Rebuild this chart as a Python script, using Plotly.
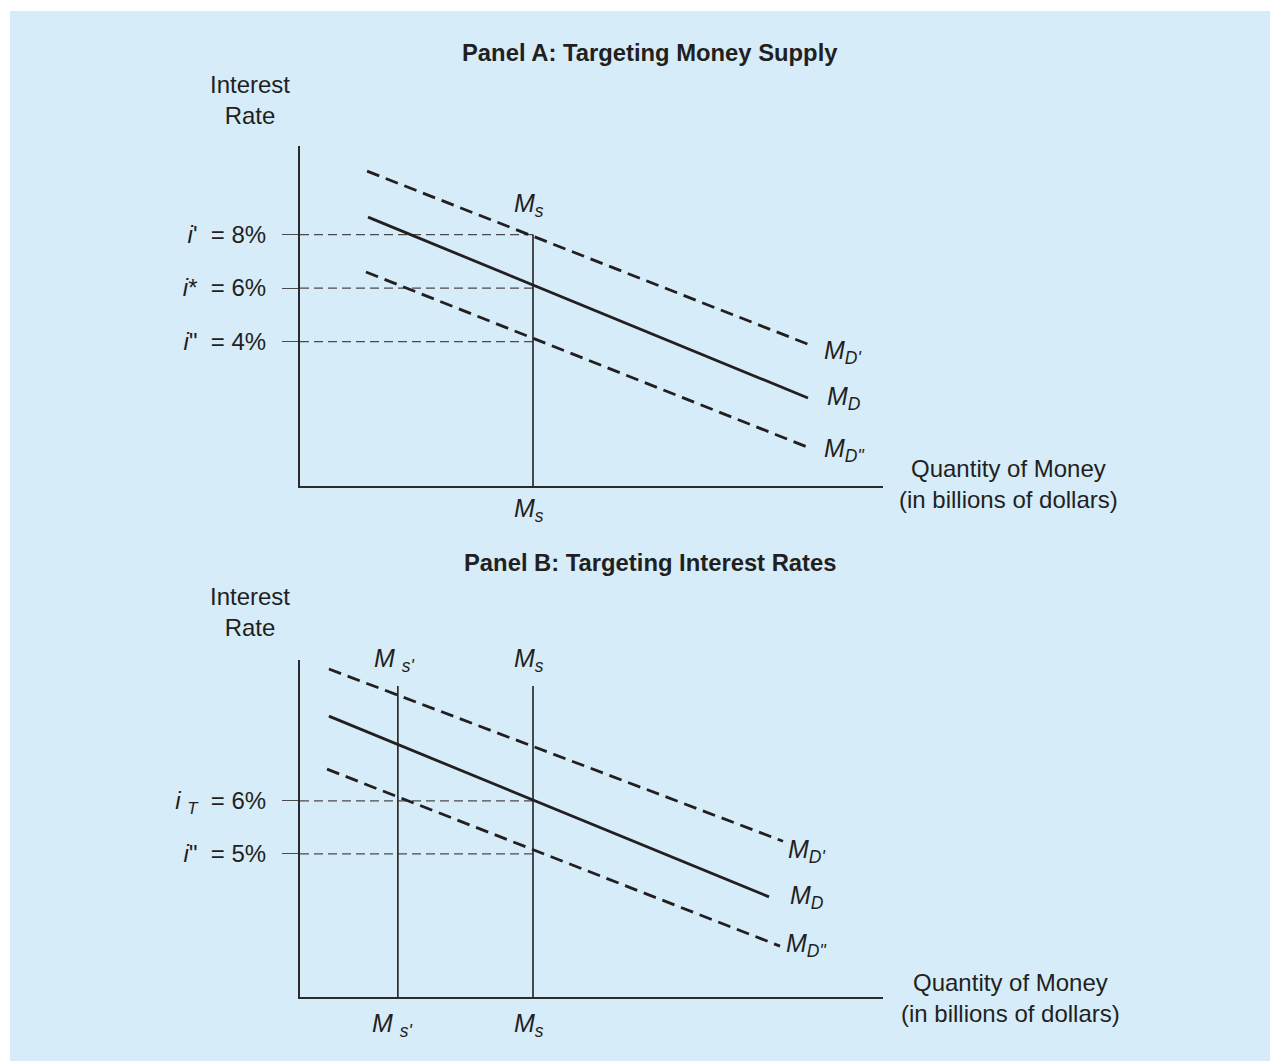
import plotly.graph_objects as go

# quantity of money: origin = 0, Ms = 100 (arbitrary units)
ms = 100
ms_prime = 42
x_range = [0, 250.2]

# ---- Panel A: targeting money supply ----
a_y_range = [-1.40, 11.31]
a_ticks = [8, 6, 4]
a_tick_text = ["<i>i</i>'&nbsp; = 8%", "<i>i</i>*&nbsp; = 6%", '<i>i</i>"&nbsp; = 4%']
a_ms_top = 8

a_md_x = [29.2, 218.0]
a_md_y = [8.65, 1.89]
a_mdp_x = [28.8, 218.9]
a_mdp_y = [10.37, 3.87]
a_mdpp_x = [28.3, 217.6]
a_mdpp_y = [6.60, 0.06]

# ---- Panel B: targeting interest rates ----
b_y_range = [2.30, 8.66]
b_ticks = [6, 5]
b_tick_text = ["<i>i</i> <sub><i>T</i></sub>&nbsp; = 6%", '<i>i</i>"&nbsp; = 5%']
b_ms_top = 8.17

b_md_x = [12.4, 201.3]
b_md_y = [7.60, 4.19]
b_mdp_x = [12.4, 207.3]
b_mdp_y = [8.49, 5.24]
b_mdpp_x = [11.6, 206.0]
b_mdpp_y = [6.60, 3.26]

INK = "#231f20"
GUIDE = "#4a4a4a"
BLUE = "#d6ecf9"
FONT = "Liberation Sans, Arial, sans-serif"

# the page body has an 8px margin, so the figure is 8px smaller than the window
W, H = 1270, 1053


def px(x):
    return (x - 8) / W


def py(y):
    return 1 - (y - 8) / H


fig = go.Figure()


def line(x, y, xa, ya, dash=None, width=2.8, color=INK):
    fig.add_trace(go.Scatter(x=x, y=y, xaxis=xa, yaxis=ya, mode="lines",
                             line=dict(color=color, width=width, dash=dash),
                             showlegend=False, hoverinfo="skip"))


# panel A
for t in a_ticks:
    line([0, ms], [t, t], "x", "y", dash="9px,5px", width=1.2, color=GUIDE)
line([ms, ms], [a_ms_top, a_y_range[0]], "x", "y", width=1.6)
line(a_mdp_x, a_mdp_y, "x", "y", dash="13px,7px")
line(a_md_x, a_md_y, "x", "y")
line(a_mdpp_x, a_mdpp_y, "x", "y", dash="13px,7px")

# panel B
for t in b_ticks:
    line([0, ms], [t, t], "x2", "y2", dash="9px,5px", width=1.2, color=GUIDE)
line([ms_prime, ms_prime], [b_ms_top, b_y_range[0]], "x2", "y2", width=1.6)
line([ms, ms], [b_ms_top, b_y_range[0]], "x2", "y2", width=1.6)
line(b_mdp_x, b_mdp_y, "x2", "y2", dash="13px,7px")
line(b_md_x, b_md_y, "x2", "y2")
line(b_mdpp_x, b_mdpp_y, "x2", "y2", dash="13px,7px")

xax = dict(domain=[px(300), px(883)], range=x_range, showline=True, linecolor="#2b2b2b",
           linewidth=2, showgrid=False, zeroline=False, showticklabels=False, ticks="")
yax = dict(showline=True, linecolor="#2b2b2b", linewidth=2, showgrid=False, zeroline=False,
           ticks="outside", ticklen=16, tickwidth=1.2, tickcolor=GUIDE,
           ticklabelstandoff=11, tickfont=dict(size=24, color=INK, family=FONT))

fig.update_layout(
    width=W, height=H,
    margin=dict(l=0, r=0, t=0, b=0),
    paper_bgcolor="white", plot_bgcolor="rgba(0,0,0,0)",
    font=dict(family=FONT, color=INK, size=24),
    xaxis=dict(xax, anchor="y"),
    yaxis=dict(yax, anchor="x", domain=[py(486), py(146)], range=a_y_range,
               tickvals=a_ticks, ticktext=a_tick_text),
    xaxis2=dict(xax, anchor="y2"),
    yaxis2=dict(yax, anchor="x2", domain=[py(997), py(660)], range=b_y_range,
                tickvals=b_ticks, ticktext=b_tick_text),
    shapes=[dict(type="rect", xref="paper", yref="paper", x0=px(10), x1=1,
                 y0=0, y1=py(11), fillcolor=BLUE, line=dict(width=0), layer="below")],
)

ann = []


def text(s, x, y, xref, yref, size=24, xanchor="center", yanchor="middle", **kw):
    ann.append(dict(text=s, x=x, y=y, xref=xref, yref=yref, showarrow=False,
                    xanchor=xanchor, yanchor=yanchor, font=dict(size=size, color=INK, family=FONT), **kw))


text("<b>Panel A: Targeting Money Supply</b>", px(650), py(53), "paper", "paper", size=23.8)
text("<b>Panel B: Targeting Interest Rates</b>", px(650), py(562), "paper", "paper", size=23.8)
text("Interest<br>Rate", px(250), py(100), "paper", "paper")
text("Interest<br>Rate", px(250), py(612), "paper", "paper")
text("Quantity of Money<br>(in billions of dollars)", px(1008), py(484), "paper", "paper")
text("Quantity of Money<br>(in billions of dollars)", px(1010), py(998), "paper", "paper")

ms_lbl = "<i>M<sub>s</sub></i>"
msp_lbl = "<i>M </i><sub><i>s'</i></sub>"
# panel A labels
text(ms_lbl, ms, 9.10, "x", "y", size=25, xshift=-4)
text(ms_lbl, ms, 0, "x", "y domain", size=25, xshift=-4, yshift=-24)
text("<i>M<sub>D'</sub></i>", 224.0, 3.61, "x", "y", size=25, xanchor="left")
text("<i>M<sub>D</sub></i>", 225.3, 1.89, "x", "y", size=25, xanchor="left")
text('<i>M<sub>D"</sub></i>', 224.0, -0.06, "x", "y", size=25, xanchor="left")
# panel B labels
text(msp_lbl, ms_prime, 1, "x2", "y2 domain", size=25, xshift=-3)
text(ms_lbl, ms, 1, "x2", "y2 domain", size=25, xshift=-4)
text(msp_lbl, ms_prime, 0, "x2", "y2 domain", size=25, xshift=-5, yshift=-28)
text(ms_lbl, ms, 0, "x2", "y2 domain", size=25, xshift=-4, yshift=-28)
text("<i>M<sub>D'</sub></i>", 208.5, 5.06, "x2", "y2", size=25, xanchor="left")
text("<i>M<sub>D</sub></i>", 209.5, 4.19, "x2", "y2", size=25, xanchor="left")
text('<i>M<sub>D"</sub></i>', 207.7, 3.28, "x2", "y2", size=25, xanchor="left")

fig.update_layout(annotations=ann)
fig.write_html("out.html")
